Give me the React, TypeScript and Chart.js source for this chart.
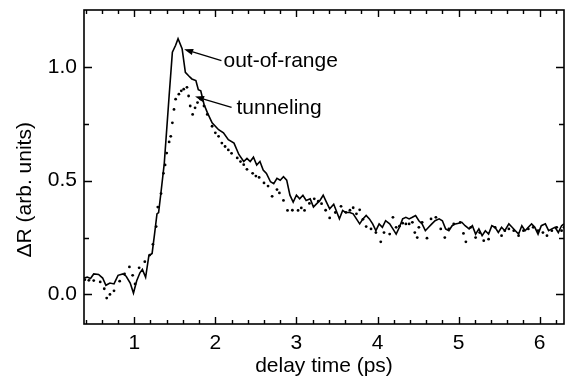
import { useEffect, useRef } from "react";
import { Chart, registerables } from "chart.js";

Chart.register(...registerables);

// ---- data ----
const outOfRangeTimes = [
  0.38, 0.42, 0.46, 0.5, 0.56, 0.61, 0.65, 0.7, 0.75, 0.8, 0.86, 0.9, 0.95, 0.99, 1.03, 1.07, 1.1, 1.14,
  1.18, 1.22, 1.25, 1.28, 1.3, 1.33, 1.37, 1.43, 1.47, 1.51, 1.54, 1.59, 1.63, 1.67, 1.71, 1.76, 1.79,
  1.82, 1.86, 1.9, 1.96, 2.04, 2.1, 2.16, 2.23, 2.29, 2.35, 2.39, 2.43, 2.47, 2.51, 2.55, 2.59, 2.63,
  2.68, 2.72, 2.76, 2.8, 2.84, 2.88, 2.92, 2.96, 3.0, 3.04, 3.08, 3.12, 3.17, 3.21, 3.25, 3.29, 3.33,
  3.37, 3.41, 3.46, 3.49, 3.53, 3.57, 3.61, 3.65, 3.7, 3.74, 3.78, 3.82, 3.86, 3.9, 3.94, 3.98, 4.02,
  4.06, 4.1, 4.15, 4.19, 4.23, 4.27, 4.31, 4.35, 4.39, 4.43, 4.47, 4.51, 4.55, 4.59, 4.63, 4.67, 4.71,
  4.76, 4.8, 4.84, 4.88, 4.92, 4.96, 5.0, 5.04, 5.08, 5.13, 5.17, 5.21, 5.25, 5.29, 5.33, 5.37, 5.41,
  5.45, 5.49, 5.53, 5.57, 5.62, 5.66, 5.7, 5.74, 5.78, 5.82, 5.86, 5.9, 5.94, 5.98, 6.02, 6.07, 6.11,
  6.15, 6.19, 6.23, 6.27, 6.3,
];
const outOfRangeValues = [
  0.072, 0.076, 0.07, 0.09, 0.088, 0.072, 0.04, 0.05, 0.046, 0.084, 0.09, 0.08, 0.05, 0.006, 0.06, 0.095,
  0.11, 0.075, 0.17, 0.18, 0.265, 0.354, 0.36, 0.45, 0.576, 0.873, 1.065, 1.095, 1.124, 1.08, 0.976,
  0.961, 0.947, 0.94, 0.9, 0.895, 0.836, 0.8, 0.754, 0.724, 0.71, 0.68, 0.665, 0.615, 0.584, 0.598,
  0.584, 0.603, 0.569, 0.584, 0.547, 0.532, 0.495, 0.487, 0.51, 0.502, 0.517, 0.502, 0.436, 0.406,
  0.436, 0.42, 0.436, 0.413, 0.42, 0.384, 0.399, 0.413, 0.436, 0.406, 0.376, 0.396, 0.369, 0.332,
  0.369, 0.359, 0.361, 0.354, 0.332, 0.31, 0.332, 0.347, 0.332, 0.31, 0.28, 0.31, 0.295, 0.324, 0.31,
  0.288, 0.265, 0.295, 0.332, 0.339, 0.332, 0.339, 0.347, 0.324, 0.31, 0.28, 0.295, 0.31, 0.324, 0.332,
  0.324, 0.288, 0.28, 0.302, 0.31, 0.313, 0.317, 0.302, 0.288, 0.302, 0.265, 0.288, 0.258, 0.28, 0.265,
  0.302, 0.295, 0.272, 0.295, 0.28, 0.31, 0.295, 0.28, 0.265, 0.302, 0.28, 0.295, 0.31, 0.295, 0.265,
  0.302, 0.31, 0.28, 0.288, 0.295, 0.272, 0.302, 0.31,
];

const tunnelingTimes = [
  0.39, 0.44, 0.5, 0.58, 0.63, 0.66, 0.7, 0.75, 0.82, 0.88, 0.94, 0.98, 1.01, 1.06, 1.13, 1.19, 1.23,
  1.27, 1.29, 1.33, 1.36, 1.38, 1.4, 1.43, 1.45, 1.47, 1.49, 1.51, 1.55, 1.58, 1.61, 1.65, 1.67, 1.69,
  1.72, 1.75, 1.78, 1.82, 1.86, 1.9, 1.96, 2.0, 2.04, 2.08, 2.12, 2.16, 2.2, 2.27, 2.31, 2.35, 2.39,
  2.46, 2.5, 2.54, 2.6, 2.65, 2.7, 2.76, 2.79, 2.84, 2.89, 2.95, 3.02, 3.06, 3.1, 3.16, 3.22, 3.27,
  3.31, 3.36, 3.41, 3.48, 3.55, 3.61, 3.66, 3.7, 3.74, 3.78, 3.82, 3.86, 3.92, 3.98, 4.04, 4.08, 4.15,
  4.19, 4.23, 4.27, 4.31, 4.35, 4.39, 4.43, 4.46, 4.49, 4.51, 4.55, 4.61, 4.66, 4.72, 4.78, 4.83, 4.88,
  4.94, 5.02, 5.06, 5.09, 5.15, 5.21, 5.26, 5.31, 5.37, 5.45, 5.53, 5.57, 5.62, 5.68, 5.74, 5.8, 5.86,
  5.92, 5.98, 6.04, 6.09, 6.15, 6.21, 6.27, 6.3,
];
const tunnelingValues = [
  0.065, 0.062, 0.061, 0.055, 0.025, -0.016, 0.0, 0.016, 0.058, 0.09, 0.121, 0.084, 0.046, 0.117, 0.144,
  0.173, 0.22, 0.298, 0.384, 0.443, 0.532, 0.569, 0.621, 0.67, 0.695, 0.754, 0.813, 0.858, 0.88, 0.895,
  0.902, 0.91, 0.872, 0.828, 0.791, 0.82, 0.843, 0.858, 0.828, 0.791, 0.739, 0.71, 0.695, 0.665, 0.65,
  0.635, 0.62, 0.6, 0.584, 0.57, 0.55, 0.532, 0.52, 0.514, 0.49, 0.476, 0.431, 0.461, 0.446, 0.413,
  0.369, 0.37, 0.369, 0.38, 0.369, 0.4, 0.42, 0.41, 0.399, 0.37, 0.336, 0.36, 0.387, 0.361, 0.37, 0.381,
  0.354, 0.372, 0.33, 0.298, 0.288, 0.272, 0.231, 0.272, 0.265, 0.339, 0.295, 0.3, 0.313, 0.31, 0.31,
  0.317, 0.272, 0.25, 0.295, 0.317, 0.247, 0.332, 0.339, 0.288, 0.25, 0.288, 0.31, 0.317, 0.268, 0.231,
  0.295, 0.25, 0.272, 0.236, 0.243, 0.295, 0.258, 0.28, 0.288, 0.28, 0.258, 0.28, 0.288, 0.295, 0.28,
  0.272, 0.258, 0.28, 0.295, 0.28, 0.295,
];

const xMajorTicks = [1, 2, 3, 4, 5, 6];
const xMinorTicks = [0.4, 0.6, 0.8, 1.2, 1.4, 1.6, 1.8, 2.2, 2.4, 2.6, 2.8, 3.2, 3.4, 3.6, 3.8, 4.2, 4.4, 4.6, 4.8, 5.2, 5.4, 5.6, 5.8, 6.2];
const yMajorTicks = [0, 0.5, 1.0];
const yMinorTicks = [0.25, 0.75];

const xTitle = "delay time (ps)";
const yTitle = "ΔR (arb. units)";
// the y title sits a little below the middle of the plot, at this value
const yTitleCenterValue = 0.46;

// annotations (data units)
const annotationLabels = ["out-of-range", "tunneling"];
const annotationTextPos = [
  [2.1, 1.027],
  [2.26, 0.82],
];
const annotationArrowTail = [
  [2.075, 1.027],
  [2.2, 0.822],
];
const annotationArrowTip = [
  [1.615, 1.077],
  [1.75, 0.87],
];

const FONT = '"Liberation Sans", Arial, Helvetica, sans-serif';
const FONT_SIZE = 21;

const framePlugin = {
  id: "frame",
  afterDraw(chart: any) {
    const { ctx, chartArea, scales } = chart;
    const { left, right, top, bottom } = chartArea;
    const xs = scales.x;
    const ys = scales.y;
    ctx.save();
    ctx.strokeStyle = "#000";
    ctx.lineWidth = 1.6;
    ctx.strokeRect(left, top, right - left, bottom - top);
    ctx.lineWidth = 1.4;
    const drawX = (v: number, len: number) => {
      const p = Math.round(xs.getPixelForValue(v)) + 0.5;
      ctx.beginPath();
      ctx.moveTo(p, bottom);
      ctx.lineTo(p, bottom - len);
      ctx.moveTo(p, top);
      ctx.lineTo(p, top + len);
      ctx.stroke();
    };
    const drawY = (v: number, len: number) => {
      const p = Math.round(ys.getPixelForValue(v)) + 0.5;
      ctx.beginPath();
      ctx.moveTo(left, p);
      ctx.lineTo(left + len, p);
      ctx.moveTo(right, p);
      ctx.lineTo(right - len, p);
      ctx.stroke();
    };
    xMajorTicks.forEach((v) => drawX(v, 7));
    xMinorTicks.forEach((v) => drawX(v, 4));
    yMajorTicks.forEach((v) => drawY(v, 8));
    yMinorTicks.forEach((v) => drawY(v, 5));

    ctx.fillStyle = "#000";
    ctx.font = `${FONT_SIZE}px ${FONT}`;

    // y title
    ctx.save();
    ctx.translate(25, ys.getPixelForValue(yTitleCenterValue));
    ctx.rotate(-Math.PI / 2);
    ctx.textAlign = "center";
    ctx.textBaseline = "middle";
    ctx.fillText(yTitle, 0, 0);
    ctx.restore();

    // annotations
    ctx.textBaseline = "middle";
    ctx.textAlign = "left";
    annotationLabels.forEach((label, i) => {
      const tx = xs.getPixelForValue(annotationTextPos[i][0]);
      const ty = ys.getPixelForValue(annotationTextPos[i][1]);
      ctx.fillText(label, tx, ty);
      const ax = xs.getPixelForValue(annotationArrowTail[i][0]);
      const ay = ys.getPixelForValue(annotationArrowTail[i][1]);
      const bx = xs.getPixelForValue(annotationArrowTip[i][0]);
      const by = ys.getPixelForValue(annotationArrowTip[i][1]);
      const ang = Math.atan2(by - ay, bx - ax);
      const headLen = 9;
      const headW = 3.2;
      const hx = bx - headLen * Math.cos(ang);
      const hy = by - headLen * Math.sin(ang);
      ctx.lineWidth = 1.3;
      ctx.beginPath();
      ctx.moveTo(ax, ay);
      ctx.lineTo(hx, hy);
      ctx.stroke();
      ctx.beginPath();
      ctx.moveTo(bx, by);
      ctx.lineTo(hx + headW * Math.sin(ang), hy - headW * Math.cos(ang));
      ctx.lineTo(hx - headW * Math.sin(ang), hy + headW * Math.cos(ang));
      ctx.closePath();
      ctx.fill();
    });
    ctx.restore();
  },
};

export default function App() {
  const canvasRef = useRef<HTMLCanvasElement | null>(null);

  useEffect(() => {
    const canvas = canvasRef.current;
    if (!canvas) return;
    const font = { family: FONT, size: FONT_SIZE };
    const chart = new Chart(canvas, {
      type: "line",
      data: {
        datasets: [
          {
            label: "out-of-range",
            data: outOfRangeTimes.map((t, i) => ({ x: t, y: outOfRangeValues[i] })),
            borderColor: "#000",
            borderWidth: 1.6,
            pointRadius: 0,
            tension: 0,
            fill: false,
          },
          {
            label: "tunneling",
            data: tunnelingTimes.map((t, i) => ({ x: t, y: tunnelingValues[i] })),
            showLine: false,
            pointRadius: 1.4,
            pointBorderWidth: 0,
            pointBackgroundColor: "#000",
            borderColor: "#000",
          },
        ],
      },
      options: {
        animation: false,
        responsive: false,
        devicePixelRatio: 1,
        layout: { padding: { top: 10, right: 0, left: 0, bottom: 0 } },
        plugins: { legend: { display: false }, tooltip: { enabled: false } },
        scales: {
          x: {
            type: "linear",
            min: 0.38,
            max: 6.3,
            afterBuildTicks: (s: any) => {
              s.ticks = xMajorTicks.map((v) => ({ value: v }));
            },
            afterFit: (s: any) => {
              s.height = 65;
              s.paddingLeft = 0;
              s.paddingRight = 0;
            },
            grid: { display: false, drawTicks: false },
            border: { display: false },
            ticks: {
              font,
              color: "#000",
              padding: 7,
              maxRotation: 0,
              callback: (v: any) => String(v),
            },
            title: { display: true, text: xTitle, font, color: "#000", padding: { top: 0, bottom: 10 } },
          },
          y: {
            type: "linear",
            min: -0.13,
            max: 1.25,
            afterBuildTicks: (s: any) => {
              s.ticks = yMajorTicks.map((v) => ({ value: v }));
            },
            afterFit: (s: any) => {
              s.width = 84;
              s.paddingTop = 0;
              s.paddingBottom = 0;
            },
            grid: { display: false, drawTicks: false },
            border: { display: false },
            ticks: {
              font,
              color: "#000",
              padding: 7,
              callback: (v: any) => Number(v).toFixed(1),
            },
            title: { display: false },
          },
        },
      },
      plugins: [framePlugin],
    } as any);
    return () => chart.destroy();
  }, []);

  return (
    <div style={{ position: "fixed", left: 0, top: 0, width: 568, height: 389, background: "#fff" }}>
      <canvas ref={canvasRef} width={568} height={389} style={{ width: 568, height: 389 }} />
    </div>
  );
}
